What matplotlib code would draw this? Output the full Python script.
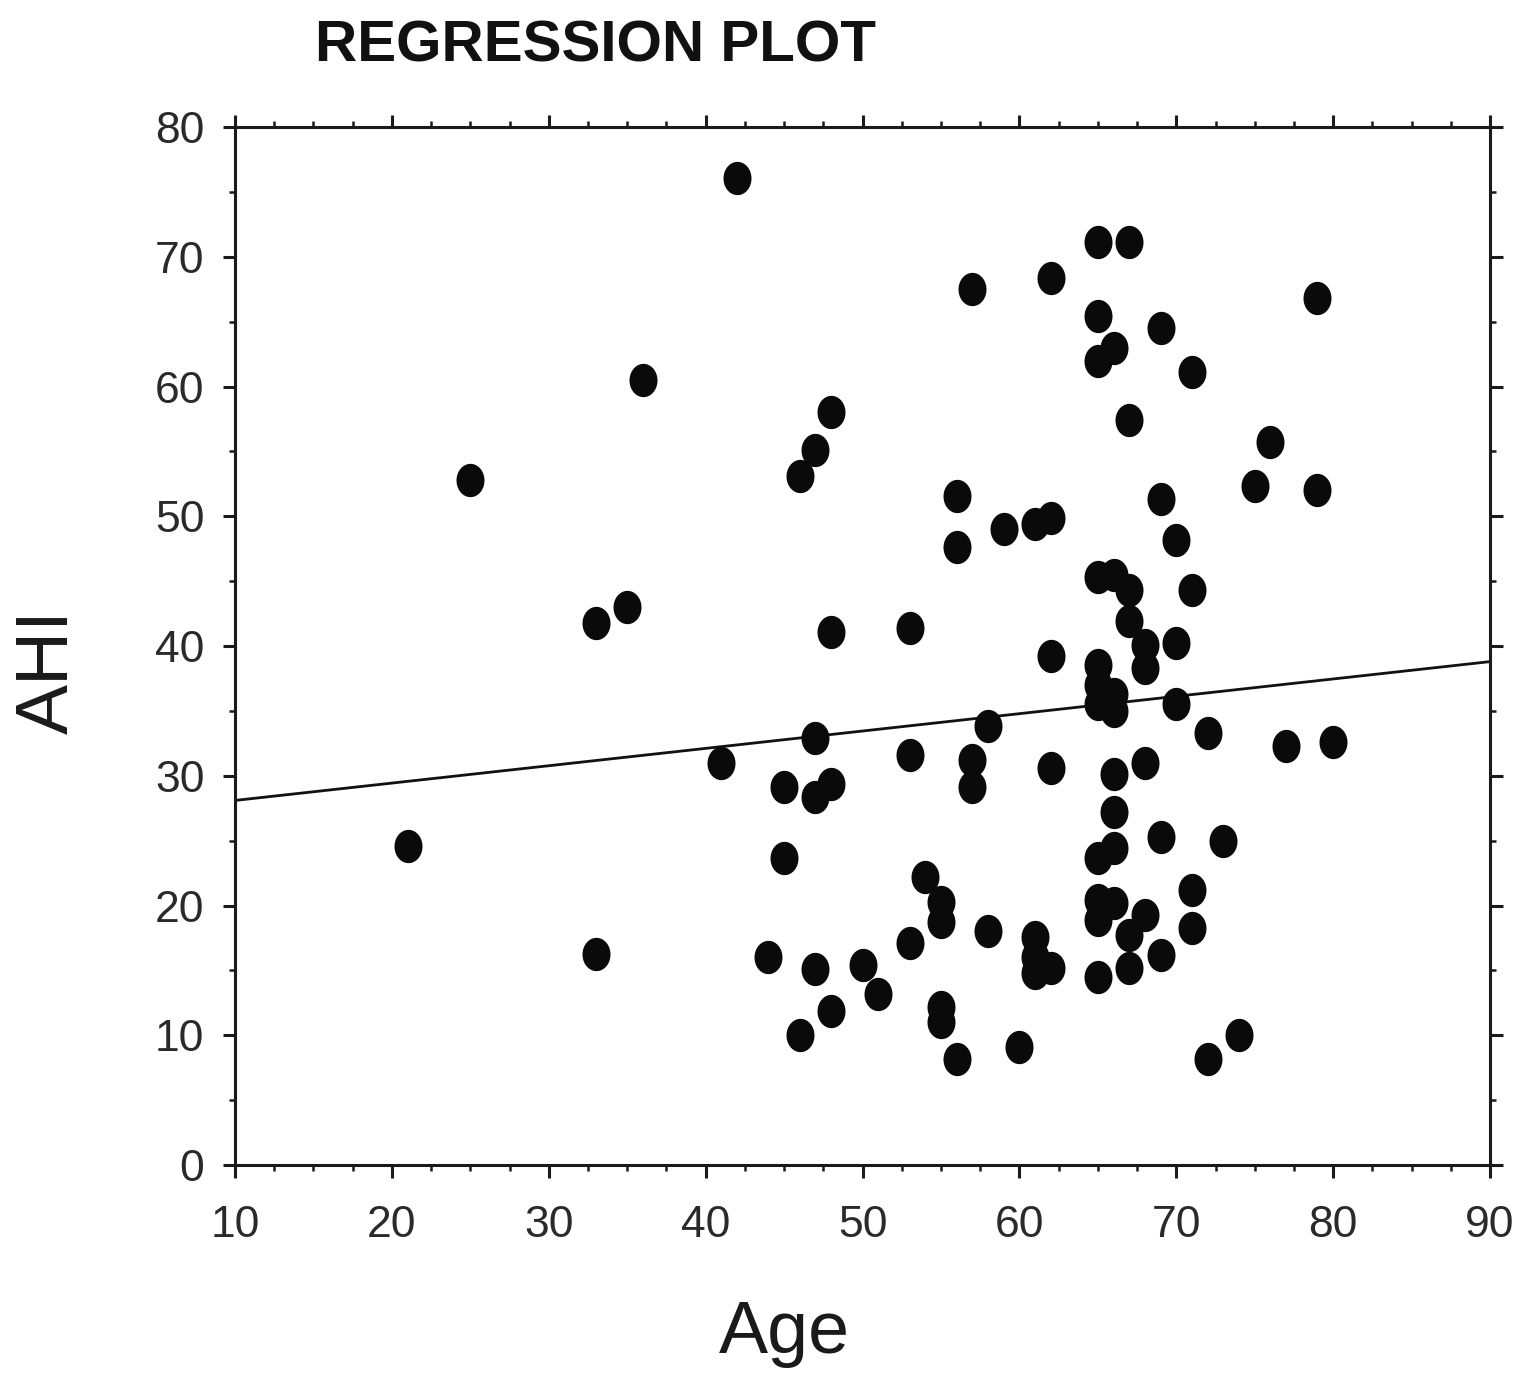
import numpy as np
import matplotlib
matplotlib.use("Agg")
import matplotlib.pyplot as plt
from matplotlib.ticker import MultipleLocator

# values
age = [21, 25, 33, 33, 35, 36, 41, 42, 44, 45, 45, 46, 46, 47, 47, 47, 47,
       48, 48, 48, 48, 50, 51, 53, 53, 53, 54, 55, 55, 55, 55, 56, 56, 56,
       57, 57, 57, 58, 58, 59, 60, 61, 61, 61, 61, 62, 62, 62, 62, 62,
       65, 65, 65, 65, 65, 65, 65, 65, 65, 65, 65,
       66, 66, 66, 66, 66, 66, 66, 66,
       67, 67, 67, 67, 67, 67, 68, 68, 68, 68, 69, 69, 69, 69,
       70, 70, 70, 71, 71, 71, 71, 72, 72, 73, 74, 75, 76, 77, 79, 79, 80]
ahi = [24.6, 52.8, 41.8, 16.3, 43.0, 60.5, 31.0, 76.1, 16.0, 29.1, 23.7, 53.1, 10.0,
       55.1, 32.9, 28.4, 15.1, 58.0, 41.1, 29.4, 11.9, 15.4, 13.2, 41.4, 31.6, 17.1,
       22.2, 20.3, 18.7, 12.2, 11.0, 8.2, 51.6, 47.6, 67.5, 31.2, 29.1, 33.8, 18.0,
       49.0, 9.1, 49.4, 17.6, 16.0, 14.8, 49.9, 68.4, 39.2, 30.6, 15.2,
       71.1, 65.4, 62.0, 45.3, 38.5, 37.0, 35.5, 20.4, 18.9, 23.7, 14.5,
       63.0, 45.5, 36.3, 35.0, 30.1, 27.2, 24.4, 20.2,
       71.1, 57.4, 44.3, 41.9, 17.7, 15.2, 40.1, 38.3, 31.0, 19.3, 64.5, 51.3, 25.3, 16.2,
       48.2, 40.2, 35.5, 61.1, 44.3, 21.2, 18.3, 33.3, 8.2, 25.0, 10.0, 52.3, 55.7,
       32.3, 66.8, 52.0, 32.6]

# fitted line as drawn in the picture
line_x = [10, 90]
line_y = [28.1, 38.8]

xticks = [10, 20, 30, 40, 50, 60, 70, 80, 90]
yticks = [0, 10, 20, 30, 40, 50, 60, 70, 80]

narrow = ['Liberation Sans Narrow', 'Liberation Sans', 'DejaVu Sans']
plain = ['Liberation Sans', 'DejaVu Sans']

fig = plt.figure(figsize=(15.18, 13.76), dpi=100)
ax = fig.add_axes([0.1548, 0.1533, 0.8268, 0.7544])

# slightly tall ellipse marker
t = np.linspace(0, 2 * np.pi, 60)
ell = np.column_stack([0.84 * np.cos(t), np.sin(t)])

ax.plot(line_x, line_y, color='#111111', lw=2.0, zorder=2)
ax.plot(age, ahi, linestyle='none', marker=ell, markersize=24,
        markerfacecolor='#0a0a0a', markeredgewidth=0, zorder=3)

ax.set_xlim(10, 90)
ax.set_ylim(0, 80)
ax.set_xticks(xticks)
ax.set_yticks(yticks)
ax.xaxis.set_minor_locator(MultipleLocator(2.5))
ax.yaxis.set_minor_locator(MultipleLocator(5))

for s in ax.spines.values():
    s.set_linewidth(2.2)
    s.set_color('#1a1a1a')

ax.tick_params(which='major', direction='out', length=9, width=2.2, color='#1a1a1a',
               top=True, right=True, labelsize=32, labelcolor='#2a2a2a')
ax.tick_params(which='minor', direction='out', length=4.5, width=1.8, color='#1a1a1a',
               top=True, right=True)
ax.tick_params(axis='x', which='major', pad=20)
ax.tick_params(axis='y', which='major', pad=13)
for lab in ax.get_xticklabels() + ax.get_yticklabels():
    lab.set_family(narrow)

fig.text(0.392, 0.966, 'REGRESSION PLOT', ha='center', va='center',
         fontsize=42, fontweight='bold', family=plain, color='#111111')
fig.text(0.032, 0.512, 'AHI', ha='center', va='center', rotation=90,
         fontsize=54, family=plain, color='#1a1a1a')
fig.text(0.517, 0.031, 'Age', ha='center', va='center',
         fontsize=53, family=plain, color='#1a1a1a')

fig.savefig('out.png', dpi=100, facecolor='white')
